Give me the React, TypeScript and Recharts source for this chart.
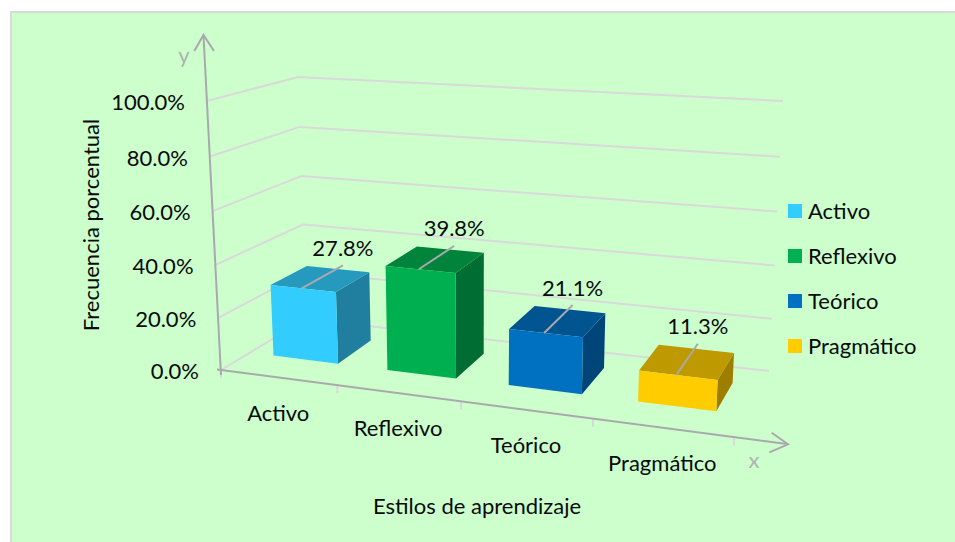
import React from "react";
import { BarChart, Bar, XAxis, YAxis, CartesianGrid, Legend, LabelList } from "recharts";

const categories = ["Activo", "Reflexivo", "Teórico", "Pragmático"];
const frequencies = [27.8, 39.8, 21.1, 11.3];
const frontColors = ["#33CCFF", "#00B050", "#0070C0", "#FFCC00"];
const yTicks = [0, 20, 40, 60, 80, 100];
const xBoundaries = [0, 0.25, 0.5, 0.75, 1];
const yTitle = "Frecuencia porcentual";
const xTitle = "Estilos de aprendizaje";

const rows = categories.map((name, i) => ({ name, value: frequencies[i] }));

const W = 955;
const H = 542;
const FONT = "Lato, Carlito, sans-serif";
const FS = 22;
const TEXT = "#0a0a0a";
const GRID = "#d9d9d9";
const AXIS = "#a9a9ad";
const PLOT = { left: 100, top: 100, width: 600, height: 300 };
const DEPTH_FRONT = 0.34;
const DEPTH_BACK = 0.77;
const DEPTH_LEADER = 0.85;

type P = [number, number];
// projection corners [u, v, d] of the 3D box
const C000: P = [221, 370];
const C100: P = [734, 437.5];
const C010: P = [207, 101];
const C110: P = [748, 140];
const C001: P = [306, 319];
const C101: P = [769, 371];
const C011: P = [298, 77];
const C111: P = [783, 101];

const warp = (t: number, r: number) => (t <= 0 ? 0 : t / (t + (1 - t) * r));
const mix = (a: P, b: P, t: number): P => [a[0] + (b[0] - a[0]) * t, a[1] + (b[1] - a[1]) * t];

function project(u: number, v: number, d: number): P {
  const U = warp(u, 1.137);
  const V = warp(v, 1.04);
  const front = mix(mix(C000, C100, U), mix(C010, C110, U), V);
  const back = mix(mix(C001, C101, U), mix(C011, C111, U), V);
  return mix(front, back, d);
}
const toU = (px: number) => (px - PLOT.left) / PLOT.width;
const toV = (py: number) => (PLOT.top + PLOT.height - py) / PLOT.height;
const pts = (list: P[]) => list.map((p) => `${p[0].toFixed(1)},${p[1].toFixed(1)}`).join(" ");

function shade(hex: string, k: number) {
  const n = parseInt(hex.slice(1), 16);
  const c = [(n >> 16) & 255, (n >> 8) & 255, n & 255].map((x) => Math.round(x * k));
  return `rgb(${c[0]},${c[1]},${c[2]})`;
}

function Bar3D(props: any) {
  const { x, y, width, height, index } = props;
  const u0 = toU(x);
  const u1 = toU(x + width);
  const v1 = toV(y);
  const v0 = toV(y + height);
  const f = DEPTH_FRONT;
  const b = DEPTH_BACK;
  const color = frontColors[index];
  return (
    <g>
      <polygon points={pts([project(u1, v0, f), project(u1, v0, b), project(u1, v1, b), project(u1, v1, f)])} fill={shade(color, 0.62)} />
      <polygon points={pts([project(u0, v1, f), project(u1, v1, f), project(u1, v1, b), project(u0, v1, b)])} fill={shade(color, 0.75)} />
      <polygon points={pts([project(u0, v0, f), project(u1, v0, f), project(u1, v1, f), project(u0, v1, f)])} fill={color} />
    </g>
  );
}

function BarLabel(props: any) {
  const { x, y, width, value } = props;
  const um = toU(x + width / 2);
  const v = toV(y);
  const a = project(um - 0.003, v, DEPTH_FRONT);
  const e = project(um - 0.003, v, DEPTH_LEADER);
  return (
    <g>
      <line x1={a[0]} y1={a[1]} x2={e[0]} y2={e[1]} stroke={AXIS} strokeWidth={2} />
      <text x={e[0]} y={e[1] - 18} textAnchor="middle" dominantBaseline="central" fontFamily={FONT} fontSize={FS} fill={TEXT}>
        {Number(value).toFixed(1)}%
      </text>
    </g>
  );
}

function GridLine3D(props: any) {
  const v = toV(props.y1);
  return (
    <polyline
      key={props.key ?? props.y1}
      points={pts([project(0, v, 0), project(0, v, 1), project(1, v, 1)])}
      fill="none"
      stroke={GRID}
      strokeWidth={2}
    />
  );
}

function XTick(props: any) {
  const u = toU(props.x);
  const p = project(u, 0, 0);
  return (
    <text x={p[0]} y={p[1] + 34.5} textAnchor="middle" dominantBaseline="central" fontFamily={FONT} fontSize={FS} fill={TEXT}>
      {props.payload.value}
    </text>
  );
}

function YTick(props: any) {
  const v = toV(props.y);
  const p = project(0, v, 0);
  return (
    <text x={p[0] - 22} y={p[1] + 0.5} textAnchor="end" dominantBaseline="central" fontFamily={FONT} fontSize={FS} fill={TEXT}>
      {Number(props.payload.value).toFixed(1)}%
    </text>
  );
}

function Decorations() {
  return (
    <g>
      {xBoundaries.map((u) => {
        const p = project(u, 0, 0);
        return <line key={u} x1={p[0]} y1={p[1]} x2={p[0]} y2={p[1] + 8} stroke={GRID} strokeWidth={2} />;
      })}
      <g fill="none" stroke={AXIS} strokeWidth={2}>
        <line x1={221} y1={375} x2={203.5} y2={35} />
        <polyline points="194.3,51 203.5,35 214,51" />
        <line x1={217} y1={369.5} x2={787} y2={444} />
        <polyline points="771.7,432.7 788,444.3 769.3,452.3" />
      </g>
      <text x={184} y={54} textAnchor="middle" dominantBaseline="central" fontFamily={FONT} fontSize={FS} fill="#aeb4ae">y</text>
      <text x={754} y={459} textAnchor="middle" dominantBaseline="central" fontFamily={FONT} fontSize={FS} fill="#aeb4ae">x</text>
      <text x={477} y={505} textAnchor="middle" dominantBaseline="central" fontFamily={FONT} fontSize={FS} fill={TEXT}>{xTitle}</text>
      <text transform="translate(90,225) rotate(-90)" textAnchor="middle" dominantBaseline="central" fontFamily={FONT} fontSize={FS} fill={TEXT}>{yTitle}</text>
    </g>
  );
}

function LegendBox() {
  return (
    <div style={{ fontFamily: FONT, fontSize: FS, color: TEXT }}>
      {categories.map((c, i) => (
        <div key={c} style={{ height: 45, display: "flex", alignItems: "center" }}>
          <span style={{ width: 14, height: 14, background: frontColors[i], marginRight: 6, display: "inline-block" }} />
          <span style={{ position: "relative", top: -1 }}>{c}</span>
        </div>
      ))}
    </div>
  );
}

export default function App() {
  return (
    <div style={{ position: "absolute", left: 0, top: 0, width: W, height: H, overflow: "hidden" }}>
      <div
        style={{
          position: "absolute",
          left: 10,
          top: 11,
          width: 943,
          height: 529,
          background: "#CCFFCC",
          borderLeft: "2px solid #d9d9d9",
          borderTop: "2px solid #d9d9d9",
        }}
      />
      <div style={{ position: "absolute", left: 0, top: 0 }}>
        <BarChart
          width={W}
          height={H}
          data={rows}
          barCategoryGap="21.5%"
          margin={{ left: PLOT.left - 1, top: PLOT.top, right: W - PLOT.left - PLOT.width, bottom: H - PLOT.top - PLOT.height - 1 }}
        >
          <CartesianGrid horizontal={GridLine3D as any} vertical={false} />
          <XAxis dataKey="name" height={1} axisLine={false} tickLine={false} tick={XTick as any} interval={0} />
          <YAxis width={1} domain={[0, 100]} ticks={yTicks} axisLine={false} tickLine={false} tick={YTick as any} interval={0} />
          <Legend
            layout="vertical"
            align="center"
            verticalAlign="middle"
            content={LegendBox as any}
            wrapperStyle={{ left: 788, top: 188.5, width: 160, height: 180 }}
          />
          <Decorations />
          <Bar dataKey="value" isAnimationActive={false} shape={Bar3D as any}>
            <LabelList dataKey="value" content={BarLabel as any} />
          </Bar>
        </BarChart>
      </div>
    </div>
  );
}
